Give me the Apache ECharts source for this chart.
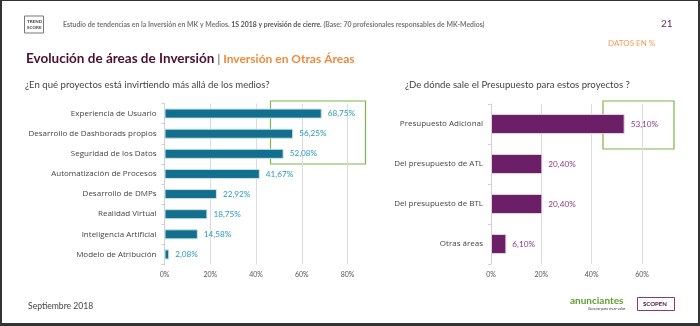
<!DOCTYPE html>
<html>
<head>
<meta charset="utf-8">
<script src="https://cdn.jsdelivr.net/npm/echarts@6/dist/echarts.min.js"></script>
<style>
  html, body { margin: 0; padding: 0; background: #fff; }
  #chart { width: 700px; height: 326px; }
</style>
</head>
<body>
<div id="chart"></div>
<script>
// Proyectos en los que se invierte más allá de los medios (%)
const projectCategories = [
  'Experiencia de Usuario',
  'Desarrollo de Dashborads propios',
  'Seguridad de los Datos',
  'Automatización de Procesos',
  'Desarrollo de DMPs',
  'Realidad Virtual',
  'Inteligencia Artificial',
  'Modelo de Atribución'
];
const projectValues = [68.75, 56.25, 52.08, 41.67, 22.92, 18.75, 14.58, 2.08];
const projectTicks = [0, 20, 40, 60, 80];

// Origen del presupuesto para estos proyectos (%)
const budgetCategories = [
  'Presupuesto Adicional',
  'Del presupuesto de ATL',
  'Del presupuesto de BTL',
  'Otras áreas'
];
const budgetValues = [53.10, 20.40, 20.40, 6.10];
const budgetTicks = [0, 20, 40, 60];

const FONT = 'Lato';
const LABEL_FONT = 'Open Sans';
const pct = v => v.toFixed(2).replace('.', ',') + '%';

const chart = echarts.init(document.getElementById('chart'), null, { renderer: 'canvas' });

function valueAxis(gridIndex, ticks) {
  return {
    type: 'value',
    gridIndex: gridIndex,
    min: ticks[0],
    max: ticks[ticks.length - 1],
    interval: ticks[1] - ticks[0],
    axisLine: { show: false },
    axisTick: { show: false },
    splitLine: { show: true, lineStyle: { color: '#dcdcdc', width: 1 } },
    axisLabel: {
      formatter: '{value}%', color: '#555', fontSize: 7, fontFamily: FONT, margin: 7
    }
  };
}

function categoryAxis(gridIndex, cats) {
  return {
    type: 'category',
    gridIndex: gridIndex,
    data: cats,
    inverse: true,
    axisLine: { show: true, lineStyle: { color: '#d0d0d0' } },
    axisTick: { show: true, length: 3, lineStyle: { color: '#d0d0d0' } },
    axisLabel: { color: '#444', fontSize: 8, fontFamily: LABEL_FONT, margin: 8 }
  };
}

function heading(text, left, top, size, color) {
  return {
    text: text, left: left, top: top, padding: 0,
    textStyle: { fontSize: size, color: color, fontFamily: FONT, fontWeight: 'normal' }
  };
}

chart.setOption({
  animation: false,
  backgroundColor: '#ffffff',
  title: [
    {
      text: '{a|Estudio de tendencias en la Inversión en MK y Medios. }{b|1S 2018 y previsión de cierre.}{a| (Base: 70 profesionales responsables de MK-Medios)}',
      left: 63, top: 21, padding: 0,
      textStyle: {
        rich: {
          a: { fontSize: 6.9, color: '#777', fontFamily: FONT },
          b: { fontSize: 6.9, color: '#555', fontFamily: FONT }
        }
      }
    },
    heading('21', 661, 18.5, 10, '#6b2d5c'),
    heading('DATOS EN %', 608, 39.5, 8, '#f59a5a'),
    {
      text: '{a|Evolución de áreas de Inversión}{s| | }{b|Inversión en Otras Áreas}',
      left: 26, top: 52, padding: 0,
      textStyle: {
        rich: {
          a: { fontSize: 13.5, fontWeight: 'bold', color: '#4a1030', fontFamily: FONT },
          s: { fontSize: 12, color: '#888', fontFamily: FONT },
          b: { fontSize: 12, color: '#f08a3c', fontFamily: FONT }
        }
      }
    },
    heading('¿En qué proyectos está invirtiendo más allá de los medios?', 25, 80, 9.6, '#444'),
    heading('¿De dónde sale el Presupuesto para estos proyectos ?', 405, 80, 9.6, '#444'),
    heading('Septiembre 2018', 28, 301.5, 8.6, '#444')
  ],
  grid: [
    { left: 164.5, width: 183, top: 103.5, height: 161 },
    { left: 491, width: 151, top: 104, height: 160 }
  ],
  xAxis: [valueAxis(0, projectTicks), valueAxis(1, budgetTicks)],
  yAxis: [categoryAxis(0, projectCategories), categoryAxis(1, budgetCategories)],
  series: [
    {
      type: 'bar',
      xAxisIndex: 0, yAxisIndex: 0,
      data: projectValues,
      barWidth: '50%',
      itemStyle: { color: '#12708e', borderColor: '#cde2ea', borderWidth: 1 },
      label: {
        show: true, position: 'right', distance: 6,
        formatter: p => pct(p.value),
        color: '#2a9bc4', fontSize: 8.2, fontFamily: FONT
      }
    },
    {
      type: 'bar',
      xAxisIndex: 1, yAxisIndex: 1,
      data: budgetValues,
      barWidth: '50%',
      itemStyle: { color: '#6b1f66', borderColor: '#e2cfe0', borderWidth: 1 },
      label: {
        show: true, position: 'right', distance: 6,
        formatter: p => pct(p.value),
        color: '#8a3d86', fontSize: 8.2, fontFamily: FONT
      }
    }
  ],
  graphic: [
    // page frame
    { type: 'rect', shape: { x: 0, y: 0, width: 700, height: 1 }, style: { fill: '#333' } },
    { type: 'rect', shape: { x: 0, y: 0, width: 2, height: 326 }, style: { fill: '#333' } },
    { type: 'rect', shape: { x: 698, y: 0, width: 2, height: 326 }, style: { fill: '#333' } },
    { type: 'rect', shape: { x: 0, y: 323, width: 700, height: 3 }, style: { fill: '#333' } },
    // Trend Score logo
    { type: 'rect', shape: { x: 24.5, y: 16, width: 19, height: 17 }, style: { fill: 'none', stroke: '#777', lineWidth: 1 } },
    { type: 'text', left: 27, top: 18.5, style: { text: 'TREND\nSCORE', fontSize: 4.5, fontWeight: 'bold', fill: '#444', fontFamily: FONT, lineHeight: 6, align: 'center' } },
    // highlight boxes
    { type: 'rect', shape: { x: 270.5, y: 101, width: 95, height: 63 }, style: { fill: 'none', stroke: '#7ab648', lineWidth: 1.2 } },
    { type: 'rect', shape: { x: 603, y: 101, width: 71, height: 48 }, style: { fill: 'none', stroke: '#7ab648', lineWidth: 1.2 } },
    // footer logos
    { type: 'text', left: 570, top: 296, style: { text: 'anunciantes', fontSize: 10, fontWeight: 'bold', fill: '#5aa02c', fontFamily: FONT } },
    { type: 'text', left: 588, top: 307, style: { text: 'Generar para crear valor', fontSize: 3.5, fill: '#333', fontFamily: FONT } },
    { type: 'rect', shape: { x: 637.5, y: 297.5, width: 37, height: 13 }, style: { fill: 'none', stroke: '#8b3a6b', lineWidth: 1 } },
    { type: 'text', left: 643, top: 301, style: { text: 'SCOPEN', fontSize: 6, fontWeight: 'bold', fill: '#4a1030', fontFamily: FONT } }
  ]
});
</script>
</body>
</html>
